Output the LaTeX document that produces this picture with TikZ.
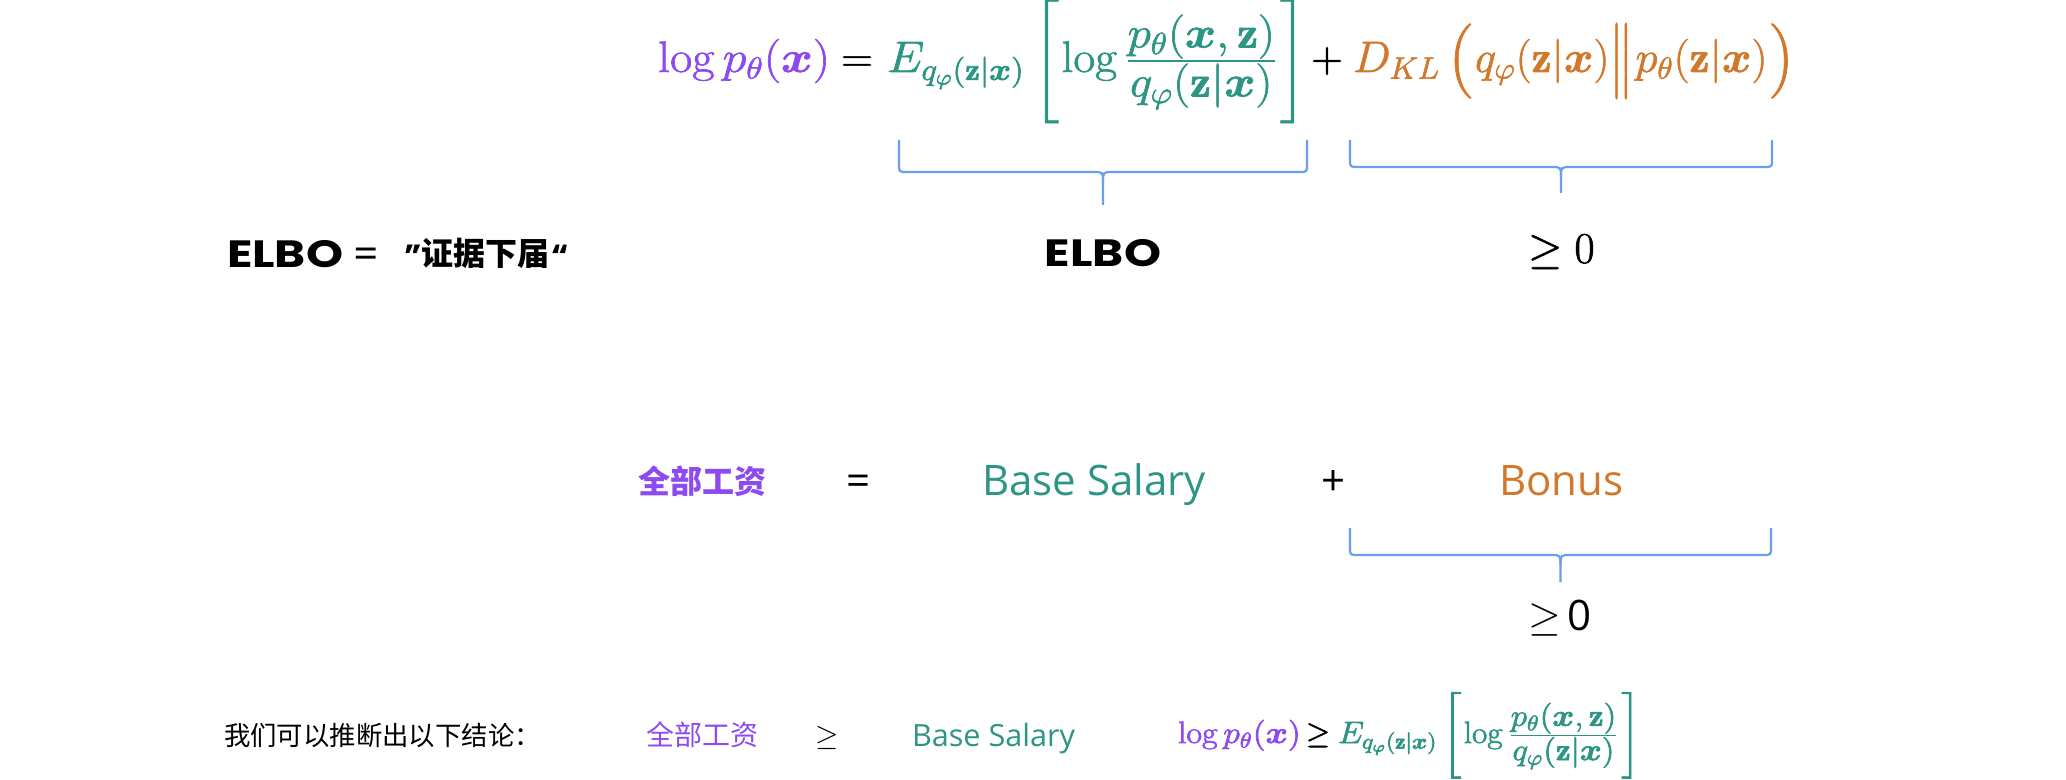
\RequirePackage{fix-cm}
\documentclass[tikz,border=0pt]{standalone}
\usepackage{amsmath}
\usepackage{bm}
\usepackage{fontspec}
\newfontfamily\cjk{Noto Sans CJK SC}
\newfontfamily\osans{Open Sans}
\newfontfamily\pop{Poppins}
\definecolor{cpurple}{HTML}{8C4AF0}
\definecolor{cteal}{HTML}{2C9583}
\definecolor{corange}{HTML}{D2782B}
\definecolor{braceblue}{HTML}{6A9EEE}
\newcommand\drawbrace[5]{%
  \pgfmathsetmacro\brcm{(#1+#2)/2}%
  \draw[brc] (#1,#3) -- (#1,#4-8) .. controls (#1,#4) .. (#1+8,#4) -- (\brcm-10,#4)
     .. controls (\brcm,#4) .. (\brcm,#4+10) -- (\brcm,#5);
  \draw[brc] (\brcm,#4+10) .. controls (\brcm,#4) .. (\brcm+10,#4) -- (#2-8,#4)
     .. controls (#2,#4) .. (#2,#4-8) -- (#2,#3);
}
% delimiter of a fixed total height
\newcommand\fixL[2]{\mathopen{\left#1\vcenter to #2{}\right.}}
\newcommand\fixR[2]{\mathclose{\left.\vcenter to #2{}\right#1}}
\newcommand\fixM[2]{\mathord{\left#1\vcenter to #2{}\right.}}
\newcommand\tightfrac[2]{\tfrac{\displaystyle #1}{\displaystyle #2}}
\newcommand\wide[2]{\scalebox{#1}[1]{#2}}
\newcommand\exactdelims{\delimiterfactor=1000 \delimitershortfall=0pt\relax}
% slightly heavier glyphs (fill + thin stroke)
\newcommand\heavy[1]{\special{pdf:literal direct 2 Tr 0.3 w}#1\special{pdf:literal direct 0 Tr}}
\begin{document}
\begin{tikzpicture}[x=0.5pt,y=-0.5pt,
  txt/.style={inner sep=0pt,outer sep=0pt,anchor=base west},
  ctr/.style={inner sep=0pt,outer sep=0pt,anchor=base},
  brc/.style={draw=braceblue,line width=1.1pt},
  bigmath/.style={font={\fontsize{22}{26}\selectfont\exactdelims}},
  smallmath/.style={font={\fontsize{15.4}{18}\selectfont\exactdelims}},
  elbofont/.style={font={\pop\bfseries\fontsize{19}{22}\selectfont}},
]
\useasboundingbox (0,0) rectangle (2066,780);
\fill[white] (0,0) rectangle (2066,780);

% ---- top formula ----
\node[txt,bigmath,text=cpurple] (lhs) at (658,72) {\heavy{\wide{1.1}{$\log p_\theta(\bm{x})$}}};
\node[ctr,bigmath] (eqa) at (857,72) {\heavy{$=$}};
\node[txt,bigmath,text=cteal] (eterm) at (887,72)
  {\heavy{\wide{1.08}{$E_{q_\varphi(\mathbf{z}|\bm{x})}\,\fixL[{55pt}\log\tightfrac{p_\theta(\bm{x},\mathbf{z})}{q_\varphi(\mathbf{z}|\bm{x})}\fixR]{55pt}$}}};
\node[ctr,bigmath] (plusa) at (1327,72) {\heavy{$+$}};
\node[txt,bigmath,text=corange] (klterm) at (1353,72)
  {\heavy{\wide{1.02}{$D_{KL}\,\fixL({36pt}q_\varphi(\mathbf{z}|\bm{x})\fixM\|{29pt}p_\theta(\mathbf{z}|\bm{x})\fixR){36pt}$}}};

\drawbrace{899}{1307}{140}{172}{205}
\drawbrace{1350}{1772}{140}{167}{193}

\node[ctr,elbofont] (elbo) at (1103,267) {\wide{1.24}{ELBO}};
\node[txt,bigmath] (gea) at (1528,263) {\heavy{$\geq 0$}};

% ---- left definition ----
\node[txt,elbofont] (elbodef) at (227,268) {\wide{1.24}{ELBO}};
\node[ctr,font={\pop\fontsize{19}{22}\selectfont}] (eqdef) at (366,268) {=};
\node[txt,font={\pop\bfseries\fontsize{16}{20}\selectfont}] (qopen) at (404,268) {”};
\node[txt,font={\cjk\bfseries\fontsize{16}{20}\selectfont}] (zh) at (421,266) {证据下届};
\node[txt,font={\pop\bfseries\fontsize{16}{20}\selectfont}] (qclose) at (551,268) {“};

% ---- middle row ----
\node[txt,font={\cjk\bfseries\fontsize{16}{20}\selectfont},text=cpurple] (wage) at (638,494) {全部工资};
\node[ctr,font={\osans\fontsize{21}{24}\selectfont}] (eqb) at (858,495) {=};
\node[txt,font={\osans\fontsize{21}{24}\selectfont},text=cteal] (base) at (982,495) {Base Salary};
\node[ctr,font={\osans\fontsize{21}{24}\selectfont}] (plusb) at (1333,495) {+};
\node[txt,font={\osans\fontsize{21}{24}\selectfont},text=corange] (bonus) at (1499,495) {Bonus};
\drawbrace{1350}{1771}{528}{555}{582}
\node[txt,font={\osans\fontsize{21}{24}\selectfont}] (geb) at (1528,630) {$\geq$\,0};

% ---- bottom row ----
\node[txt,font={\cjk\fontsize{13.2}{16}\selectfont}] (concl) at (224,745) {我们可以推断出以下结论：};
\node[txt,font={\cjk\fontsize{14}{17}\selectfont},text=cpurple] (wage2) at (646,745) {全部工资};
\node[ctr,font={\fontsize{15}{18}\selectfont}] (gec) at (827,745) {$\geq$};
\node[txt,font={\osans\fontsize{15.3}{18}\selectfont},text=cteal] (base2) at (912,746) {Base Salary};
\node[txt,smallmath,text=cpurple] (lhs2) at (1178,743) {\heavy{\wide{1.1}{$\log p_\theta(\bm{x})$}}};
\node[ctr,smallmath] (ged) at (1318,743) {\heavy{$\geq$}};
\node[txt,smallmath,text=cteal] (eterm2) at (1338,743)
  {\heavy{\wide{1.08}{$E_{q_\varphi(\mathbf{z}|\bm{x})}\,\fixL[{37pt}\log\tightfrac{p_\theta(\bm{x},\mathbf{z})}{q_\varphi(\mathbf{z}|\bm{x})}\fixR]{37pt}$}}};
\end{tikzpicture}
\end{document}
